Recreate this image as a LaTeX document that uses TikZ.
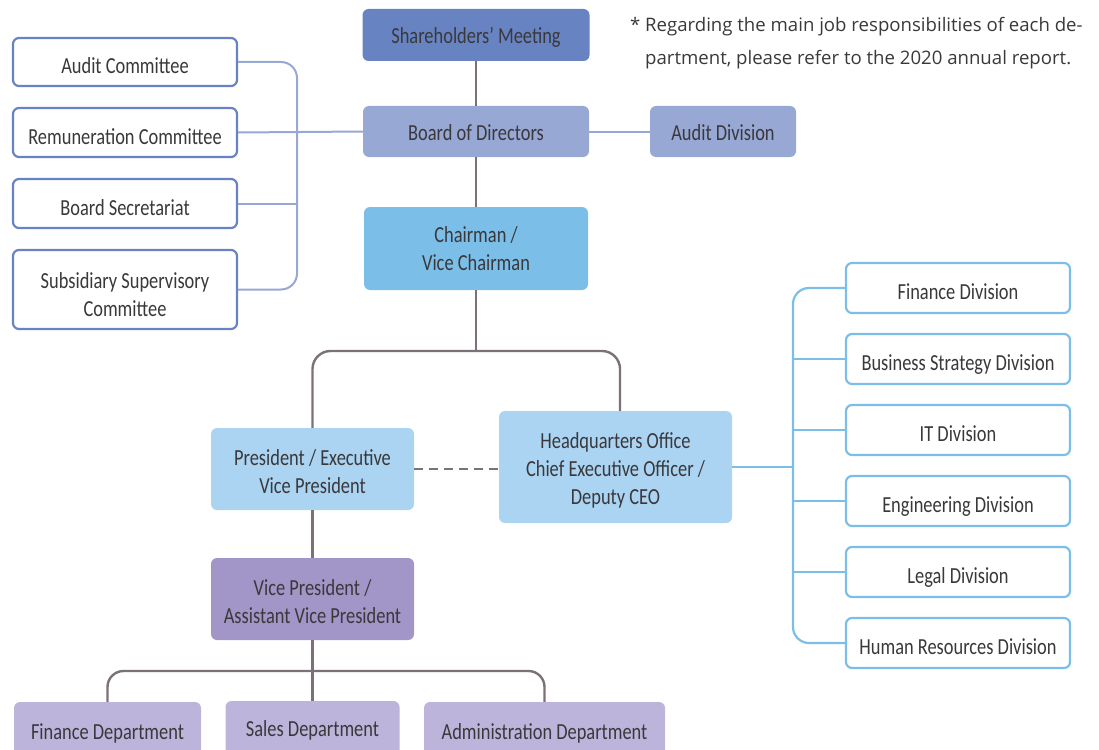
\documentclass[tikz,border=0pt]{standalone}
\usepackage{fontspec}
\setmainfont{Open Sans}
\newfontfamily\boxfont[FakeStretch=0.8]{Carlito}
\definecolor{txt}{HTML}{3A383B}
\definecolor{navy}{HTML}{6783C2}
\definecolor{slate}{HTML}{98A8D4}
\definecolor{sky}{HTML}{7BBFE8}
\definecolor{pale}{HTML}{AAD4F2}
\definecolor{violet}{HTML}{A196C7}
\definecolor{lilac}{HTML}{BCB4DA}
\definecolor{stem}{HTML}{7B7179}
\begin{document}
\begin{tikzpicture}[x=1pt,y=-1pt,
  box/.style={rounded corners=6pt, inner sep=0pt, align=center, text=txt,
    font=\boxfont\fontsize{23}{28}\selectfont},
  solid box/.style={box, fill=#1},
  open box/.style={box, draw=#1, line width=2.2pt, fill=white},
  % single-line labels: fix the baseline relative to the box centre
  base/.style={text height=#1, text depth=0pt},
  solid one/.style={solid box=#1, base=17.8pt},
  open one/.style={open box=#1, base=23.4pt},
  % multi-line labels sit as a centred label, lowered a little
  lbl/.style={inner sep=0pt, align=center, text=txt,
    font=\boxfont\fontsize{23}{28}\selectfont},
  gline/.style={draw=stem, line width=2.4pt},
  bline/.style={draw=slate, line width=2pt},
  dline/.style={draw=sky, line width=2.2pt},
  notefont/.style={font=\fontsize{18.6}{34}\selectfont, text=txt, inner sep=0pt}
]
\useasboundingbox (0,0) rectangle (1099,749);
\clip (0,0) rectangle (1099,749);

% governance spine
\node[solid one=navy, minimum width=227pt, minimum height=52pt] (sh) at (476,35) {Shareholders’ Meeting};
\node[solid one=slate, minimum width=226pt, minimum height=51pt] (bod) at (476,131.5) {Board of Directors};
\node[solid one=slate, minimum width=146pt, minimum height=51pt] (aud) at (723,131.5) {Audit Division};
\node[solid box=sky, minimum width=224pt, minimum height=83pt,
  label={[lbl]center:{Chairman /\\Vice Chairman}}] (chair) at (476,248.5) {};

% board committees
\node[open one=navy, minimum width=224pt, minimum height=48pt] (ac) at (125,62) {Audit Committee};
\node[open one=navy, minimum width=224pt, minimum height=49pt] (rc) at (125,132.5) {Remuneration Committee};
\node[open one=navy, minimum width=224pt, minimum height=49pt] (bs) at (125,203.5) {Board Secretariat};
\node[open box=navy, minimum width=224pt, minimum height=79pt,
  label={[lbl, yshift=-5pt]center:{Subsidiary Supervisory\\Committee}}] (sub) at (125,289.5) {};

% executive level
\node[solid box=pale, minimum width=203pt, minimum height=82pt,
  label={[lbl, yshift=-2.5pt]center:{President / Executive\\Vice President}}] (pres) at (312.5,469) {};
\node[solid box=pale, minimum width=233pt, minimum height=112pt,
  label={[lbl, yshift=-3pt]center:{Headquarters Office\\Chief Executive Officer /\\Deputy CEO}}] (hq) at (615.5,467) {};
\node[solid box=violet, minimum width=203pt, minimum height=82pt,
  label={[lbl, yshift=-2.5pt]center:{Vice President /\\Assistant Vice President}}] (vp) at (312.5,599) {};

% departments
\node[solid box=lilac, base=13.8pt, minimum width=187pt, minimum height=62pt] (fd) at (107.5,733) {Finance Department};
\node[solid box=lilac, base=14.8pt, minimum width=174pt, minimum height=56pt] (sd) at (312.5,729) {Sales Department};
\node[solid box=lilac, base=13.8pt, minimum width=241pt, minimum height=62pt] (ad) at (544.5,733) {Administration Department};

% headquarters divisions
\node[open one=sky, minimum width=224pt, minimum height=50pt] (d1) at (958,288) {Finance Division};
\node[open one=sky, minimum width=224pt, minimum height=50pt] (d2) at (958,359) {Business Strategy Division};
\node[open one=sky, minimum width=224pt, minimum height=50pt] (d3) at (958,430) {IT Division};
\node[open one=sky, minimum width=224pt, minimum height=50pt] (d4) at (958,501) {Engineering Division};
\node[open one=sky, minimum width=224pt, minimum height=50pt] (d5) at (958,572) {Legal Division};
\node[open one=sky, minimum width=224pt, minimum height=50pt] (d6) at (958,643) {Human Resources Division};

% footnote
\node[notefont, anchor=base west] (star) at (630,32) {*};
\node[notefont, anchor=base west] (note1) at (645,32) {Regarding the main job responsibilities of each de-};
\node[notefont, anchor=base west] (note2) at (645,65) {partment, please refer to the 2020 annual report.};

% branch points
\coordinate (cbus) at (297,0);
\coordinate (dbus) at (793,0);
\coordinate (cbranch) at (476,351);
\coordinate (vbranch) at (312.5,671);

% connectors
\draw[gline] (sh.south) -- (bod.north);
\draw[gline] (bod.south) -- (chair.north);
\draw[gline] (chair.south) -- (cbranch);
\draw[gline, rounded corners=18pt] (pres.north) |- (cbranch) -| ([xshift=4.5pt]hq.north);
\draw[gline, dash pattern=on 9pt off 6pt] (pres.east) -- (pres.east -| hq.west);
\draw[gline] (pres.south) -- (vp.north);
\draw[gline] (vp.south) -- (sd.north);
\draw[gline, rounded corners=16pt] (fd.north) |- (vbranch) -| (ad.north);

\draw[bline, rounded corners=16pt] (ac.east) -| (cbus |- sub.east) -- (sub.east);
\draw[bline] (rc.east) -- (bod.west);
\draw[bline] (bs.east) -- (bs.east -| cbus);
\draw[bline] (bod.east) -- (aud.west);

\draw[dline] (hq.east) -- (hq.east -| dbus);
\draw[dline, rounded corners=16pt] (d1.west) -| (dbus |- d6.west) -- (d6.west);
\foreach \d in {d2,d3,d4,d5} \draw[dline] (\d.west) -- (\d.west -| dbus);
\end{tikzpicture}
\end{document}
